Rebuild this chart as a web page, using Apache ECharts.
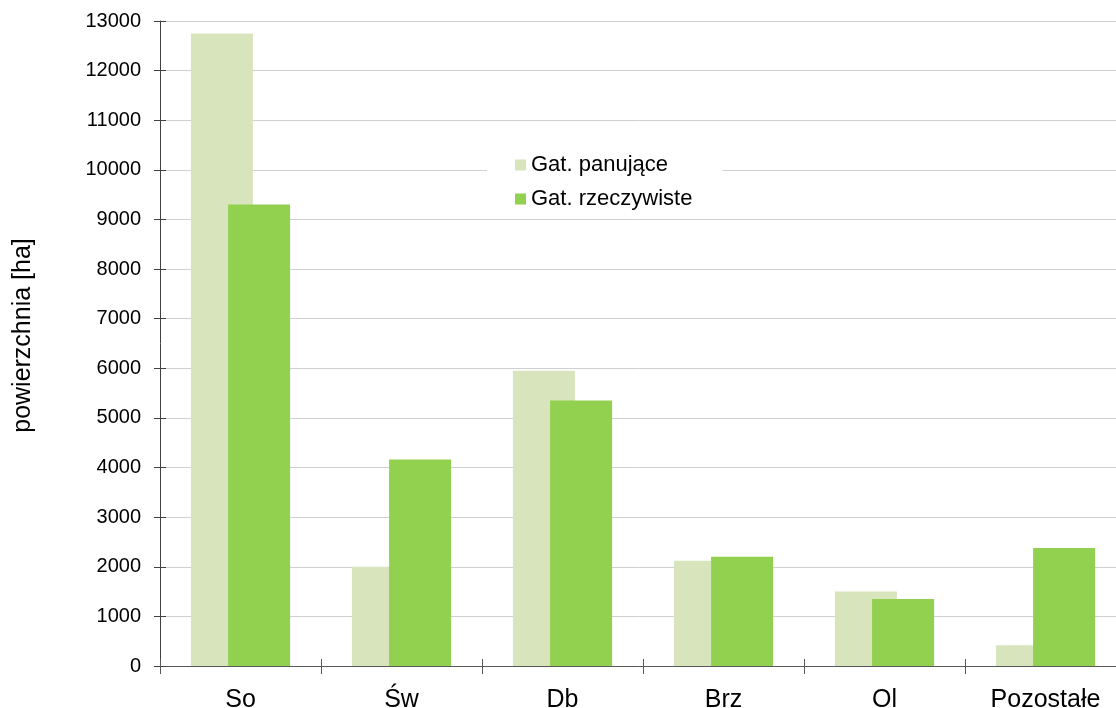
<!DOCTYPE html>
<html>
<head>
<meta charset="utf-8">
<script src="https://cdn.jsdelivr.net/npm/echarts@6/dist/echarts.min.js"></script>
<style>
  html, body { margin: 0; padding: 0; background: #fff; }
  #chart { width: 1116px; height: 708px; }
</style>
</head>
<body>
<div id="chart"></div>
<script>
const categories = ['So', 'Św', 'Db', 'Brz', 'Ol', 'Pozostałe'];
const panujace = [12750, 2000, 5950, 2120, 1500, 420];
const rzeczywiste = [9300, 4160, 5350, 2200, 1350, 2380];
const seriesNames = ['Gat. panujące', 'Gat. rzeczywiste'];

const chart = echarts.init(document.getElementById('chart'));
const font = 'Liberation Sans, Arial, sans-serif';

chart.setOption({
  animation: false,
  textStyle: { fontFamily: font },
  grid: { left: 160, top: 21, width: 966, height: 645, containLabel: false, outerBoundsMode: 'none' },
  legend: {
    data: seriesNames,
    orient: 'vertical',
    left: 487,
    top: 148,
    padding: [6, 30, 6, 28],
    icon: 'rect',
    itemWidth: 11,
    itemHeight: 11,
    itemGap: 12,
    backgroundColor: '#fff',
    textStyle: { fontSize: 22, color: '#000', fontFamily: font }
  },
  xAxis: [
    {
      type: 'category',
      data: categories,
      axisLine: { lineStyle: { color: '#595959', width: 1 } },
      axisTick: { show: true, length: 8, lineStyle: { color: '#595959' } },
      axisLabel: { fontSize: 25, color: '#000', margin: 22, fontFamily: font }
    },
    {
      // inner half of the crossing ticks
      type: 'category',
      data: categories,
      position: 'bottom',
      axisLine: { show: false },
      axisTick: { show: true, inside: true, length: 7, lineStyle: { color: '#595959' } },
      axisLabel: { show: false }
    }
  ],
  yAxis: [
    {
      type: 'value',
      min: 0,
      max: 13000,
      interval: 1000,
      name: 'powierzchnia [ha]',
      nameLocation: 'middle',
      nameGap: 124,
      nameTextStyle: { fontSize: 25, color: '#000', fontFamily: font, padding: [0, 0, 0, 16] },
      axisLine: { show: true, lineStyle: { color: '#404040', width: 1 } },
      axisTick: { show: true, length: 6, lineStyle: { color: '#404040' } },
      axisLabel: { fontSize: 20, color: '#000', margin: 19, fontFamily: font, formatter: v => String(v) },
      splitLine: { lineStyle: { color: '#d0d0d0', width: 1 } }
    },
    {
      type: 'value',
      min: 0,
      max: 13000,
      interval: 1000,
      position: 'left',
      offset: 0,
      axisLine: { show: false },
      axisTick: { show: true, inside: true, length: 6, lineStyle: { color: '#404040' } },
      axisLabel: { show: false },
      splitLine: { show: false }
    }
  ],
  series: [
    {
      name: seriesNames[0],
      type: 'bar',
      data: panujace,
      barWidth: 62,
      barGap: '-40%',
      itemStyle: { color: '#d8e4bc' }
    },
    {
      name: seriesNames[1],
      type: 'bar',
      data: rzeczywiste,
      barWidth: 62,
      itemStyle: { color: '#92d050' }
    }
  ]
});
</script>
</body>
</html>
